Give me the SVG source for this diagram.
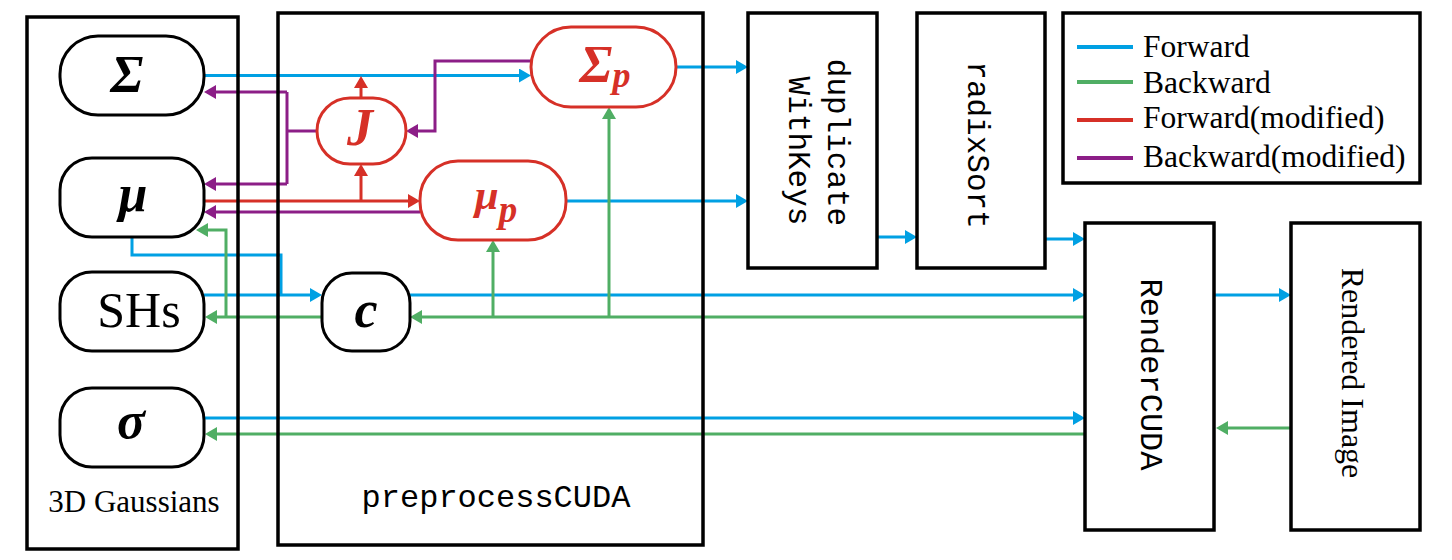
<svg xmlns="http://www.w3.org/2000/svg" width="1452" height="560" viewBox="0 0 1452 560">
<style>
.box{fill:none;stroke:#000;stroke-width:3.5}
.nd{fill:#fff;stroke:#000;stroke-width:3}
.rn{fill:#fff;stroke:#D63027;stroke-width:3}
.sym{font-family:"Liberation Serif","Times New Roman",serif;font-weight:bold;font-style:italic;text-anchor:middle}
.ser{font-family:"Liberation Serif","Times New Roman",serif}
.mono{font-family:"Liberation Mono","Courier New",monospace}
.b{fill:none;stroke:#00A0E3;stroke-width:3}
.g{fill:none;stroke:#50AE64;stroke-width:3}
.r{fill:none;stroke:#D63027;stroke-width:3}
.p{fill:none;stroke:#8C1E87;stroke-width:3}
</style>
<defs>
<marker id="ab" markerUnits="userSpaceOnUse" viewBox="0 0 12 14" markerWidth="12" markerHeight="14" refX="9" refY="7" orient="auto"><path d="M0,0 L12,7 L0,14 z" fill="#00A0E3"/></marker>
<marker id="ag" markerUnits="userSpaceOnUse" viewBox="0 0 12 14" markerWidth="12" markerHeight="14" refX="9" refY="7" orient="auto"><path d="M0,0 L12,7 L0,14 z" fill="#50AE64"/></marker>
<marker id="ar" markerUnits="userSpaceOnUse" viewBox="0 0 12 14" markerWidth="12" markerHeight="14" refX="9" refY="7" orient="auto"><path d="M0,0 L12,7 L0,14 z" fill="#D63027"/></marker>
<marker id="ap" markerUnits="userSpaceOnUse" viewBox="0 0 12 14" markerWidth="12" markerHeight="14" refX="9" refY="7" orient="auto"><path d="M0,0 L12,7 L0,14 z" fill="#8C1E87"/></marker>
</defs>
<rect width="1452" height="560" fill="#fff"/>

<g id="connectors">
  <!-- Forward (blue) -->
  <path class="b" d="M204,75.5 H528" marker-end="url(#ab)"/>
  <path class="b" d="M676,67 H745" marker-end="url(#ab)"/>
  <path class="b" d="M566,201 H745" marker-end="url(#ab)"/>
  <path class="b" d="M877,237 H914" marker-end="url(#ab)"/>
  <path class="b" d="M1045,239 H1082" marker-end="url(#ab)"/>
  <path class="b" d="M132,237 V255 H281 V295"/>
  <path class="b" d="M204,295 H319" marker-end="url(#ab)"/>
  <path class="b" d="M410,295 H1082" marker-end="url(#ab)"/>
  <path class="b" d="M204,418 H1082" marker-end="url(#ab)"/>
  <path class="b" d="M1214,295 H1288" marker-end="url(#ab)"/>
  <!-- Backward (green) -->
  <path class="g" d="M1291,428 H1219" marker-end="url(#ag)"/>
  <path class="g" d="M1085,317 H413" marker-end="url(#ag)"/>
  <path class="g" d="M493,317 V243" marker-end="url(#ag)"/>
  <path class="g" d="M609,317 V110" marker-end="url(#ag)"/>
  <path class="g" d="M322,317 H208" marker-end="url(#ag)"/>
  <path class="g" d="M226,317 V230 H199" marker-end="url(#ag)"/>
  <path class="g" d="M1085,434 H208" marker-end="url(#ag)"/>
  <!-- Forward modified (red) -->
  <path class="r" d="M204,201 H417" marker-end="url(#ar)"/>
  <path class="r" d="M361,201 V167" marker-end="url(#ar)"/>
  <path class="r" d="M361,98 V79" marker-end="url(#ar)"/>
  <!-- Backward modified (purple) -->
  <path class="p" d="M531,61 H435 V131 H409" marker-end="url(#ap)"/>
  <path class="p" d="M317,131 H287"/>
  <path class="p" d="M287,92 V184"/>
  <path class="p" d="M287,92 H207" marker-end="url(#ap)"/>
  <path class="p" d="M287,184 H207" marker-end="url(#ap)"/>
  <path class="p" d="M420,212 H207" marker-end="url(#ap)"/>
</g>

<g id="gaussians3d">
  <rect class="box" x="27" y="17" width="211" height="532"/>
  <text class="ser" x="134" y="512" font-size="31" text-anchor="middle">3D Gaussians</text>
</g>
<g id="preprocessCUDA">
  <rect class="box" x="278" y="13" width="425" height="532"/>
  <text class="mono" x="496" y="507" font-size="32" text-anchor="middle">preprocessCUDA</text>
</g>

<g id="node-Sigma">
  <rect class="nd" x="60" y="36" width="144" height="79" rx="38"/>
  <text class="sym" x="127" y="92" font-size="53">Σ</text>
</g>
<g id="node-mu">
  <rect class="nd" x="60" y="158" width="144" height="79" rx="32"/>
  <text class="sym" x="133" y="211" font-size="52">μ</text>
</g>
<g id="node-SHs">
  <rect class="nd" x="60" y="272" width="144" height="79" rx="32"/>
  <text class="ser" x="139" y="327" font-size="50" text-anchor="middle">SHs</text>
</g>
<g id="node-sigma">
  <rect class="nd" x="60" y="388" width="144" height="79" rx="32"/>
  <text class="sym" x="131" y="438" font-size="52">σ</text>
</g>
<g id="node-c">
  <rect class="nd" x="322" y="273" width="88" height="78" rx="30"/>
  <text class="sym" x="366" y="327" font-size="52">c</text>
</g>
<g id="node-J">
  <rect class="rn" x="317" y="98" width="89" height="66" rx="33"/>
  <text class="sym" x="360" y="145" font-size="52" fill="#D63027">J</text>
</g>
<g id="node-Sigmap">
  <rect class="rn" x="531" y="27" width="145" height="80" rx="40"/>
  <text class="sym" x="605" y="82" font-size="53" fill="#D63027">Σ<tspan font-size="36" dy="5">p</tspan></text>
</g>
<g id="node-mup">
  <rect class="rn" x="420" y="161" width="146" height="79" rx="38"/>
  <text class="sym" x="496" y="209" font-size="43" fill="#D63027">μ<tspan font-size="37" dy="13">p</tspan></text>
</g>

<g id="duplicateWithKeys">
  <rect class="box" x="748" y="13" width="129" height="255"/>
  <text class="mono" font-size="31" text-anchor="middle" transform="translate(828,142.5) rotate(90)">duplicate</text>
  <text class="mono" font-size="31" text-anchor="middle" transform="translate(789,151) rotate(90)">WithKeys</text>
</g>
<g id="radixSort">
  <rect class="box" x="917" y="13" width="128" height="255"/>
  <text class="mono" font-size="31" text-anchor="middle" transform="translate(968,145) rotate(90)">radixSort</text>
</g>
<g id="RenderCUDA">
  <rect class="box" x="1085" y="223" width="129" height="307"/>
  <text class="mono" font-size="32" text-anchor="middle" transform="translate(1141,374.5) rotate(90)">RenderCUDA</text>
</g>
<g id="RenderedImage">
  <rect class="box" x="1291" y="223" width="129" height="307"/>
  <text class="ser" font-size="32" text-anchor="middle" transform="translate(1342,373) rotate(90)">Rendered Image</text>
</g>

<g id="legend">
  <rect class="box" x="1063" y="13" width="357" height="170"/>
  <line x1="1077" y1="47" x2="1133" y2="47" stroke="#00A0E3" stroke-width="4"/>
  <line x1="1077" y1="82" x2="1133" y2="82" stroke="#50AE64" stroke-width="4"/>
  <line x1="1077" y1="120" x2="1133" y2="120" stroke="#D63027" stroke-width="4"/>
  <line x1="1077" y1="158" x2="1133" y2="158" stroke="#8C1E87" stroke-width="4"/>
  <text class="ser" x="1143" y="57" font-size="31.5">Forward</text>
  <text class="ser" x="1143" y="93" font-size="31.5">Backward</text>
  <text class="ser" x="1143" y="128" font-size="31.5">Forward(modified)</text>
  <text class="ser" x="1143" y="167" font-size="31.5">Backward(modified)</text>
</g>
</svg>
